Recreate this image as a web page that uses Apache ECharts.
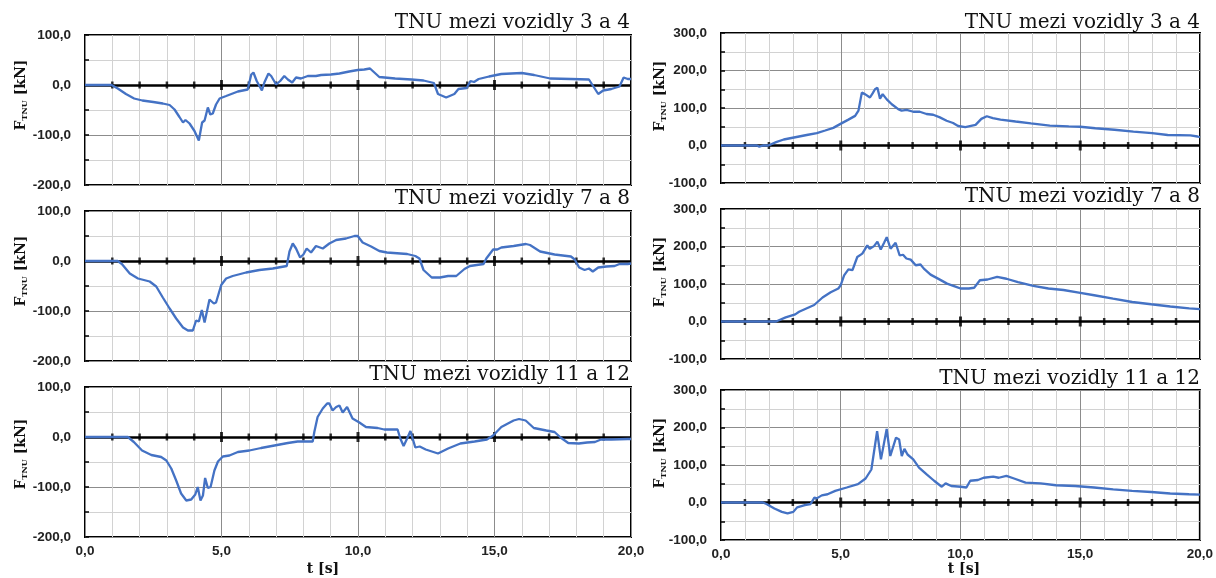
<!DOCTYPE html>
<html><head><meta charset="utf-8">
<script src="https://cdn.jsdelivr.net/npm/echarts@6/dist/echarts.min.js"></script>
<style>html,body{margin:0;padding:0;background:#fff}#c{width:1216px;height:578px}</style>
</head><body><div id="c"></div>
<script>
// ---------- data ----------
const TITLES = ['TNU mezi vozidly 3 a 4', 'TNU mezi vozidly 7 a 8', 'TNU mezi vozidly 11 a 12'];
const X_TICKS = [0, 5, 10, 15, 20];
const ZERO_TICKS = [1,2,3,4,5,6,7,8,9,10,11,12,13,14,15,16,17,18,19];
const Y_RANGE_LEFT = [-200, 100];
const Y_RANGE_RIGHT = [-100, 300];

const LEFT_3_4 = [[0,0],[0.97,0],[1.2,-7],[1.5,-18],[1.8,-27],[2.1,-31],[2.5,-34],[2.85,-37],[3.1,-40],[3.28,-49],[3.46,-64],[3.59,-75],[3.68,-70],[3.83,-77],[4.01,-92],[4.17,-111],[4.29,-75],[4.38,-71],[4.5,-45],[4.59,-59],[4.68,-57],[4.8,-39],[4.93,-27],[5.17,-22],[5.6,-13],[5.96,-9],[6.09,21],[6.17,25],[6.29,8],[6.48,-11],[6.57,5],[6.72,23],[6.82,18],[7.0,1],[7.15,8],[7.3,18],[7.43,11],[7.59,5],[7.73,15],[7.91,13],[8.16,18],[8.46,18],[8.65,20],[9.01,21],[9.32,23],[9.68,27],[9.99,30],[10.23,31],[10.44,33],[10.6,25],[10.78,16],[11.36,13],[11.96,11],[12.4,9],[12.78,4],[12.93,-18],[13.23,-25],[13.53,-18],[13.68,-8],[13.98,-6],[14.12,8],[14.25,6],[14.42,12],[14.8,17],[15.25,22],[16.0,24],[16.45,20],[17.04,13],[17.8,12],[18.46,11],[18.6,-1],[18.8,-18],[18.98,-11],[19.28,-8],[19.58,-3],[19.73,15],[19.88,12],[20,12]];
const LEFT_7_8 = [[0,0],[1.2,0],[1.35,-6],[1.64,-25],[1.94,-35],[2.37,-41],[2.61,-51],[2.85,-73],[3.1,-95],[3.34,-115],[3.59,-133],[3.77,-139],[3.95,-139],[4.07,-119],[4.17,-121],[4.28,-98],[4.38,-123],[4.56,-77],[4.72,-85],[4.8,-83],[4.99,-48],[5.17,-35],[5.41,-30],[5.9,-23],[6.39,-18],[6.88,-15],[7.39,-10],[7.49,19],[7.61,35],[7.73,25],[7.88,7],[8.0,13],[8.12,25],[8.28,17],[8.46,30],[8.71,25],[8.95,35],[9.2,42],[9.56,45],[9.87,50],[9.99,50],[10.17,37],[10.48,29],[10.78,20],[11.06,17],[11.8,14],[12.1,10],[12.25,5],[12.4,-18],[12.7,-33],[13.0,-33],[13.3,-30],[13.6,-30],[13.9,-16],[14.1,-10],[14.6,-6],[14.7,5],[14.95,23],[15.1,23],[15.25,27],[15.7,30],[16.15,34],[16.3,32],[16.67,19],[17.2,13],[17.8,9],[17.94,3],[18.1,-13],[18.3,-18],[18.46,-15],[18.6,-21],[18.8,-13],[19.1,-11],[19.4,-10],[19.58,-6],[19.88,-6],[20,-5]];
const LEFT_11_12 = [[0,0],[1.57,0],[1.79,-10],[2.09,-27],[2.43,-36],[2.79,-40],[2.98,-47],[3.16,-63],[3.34,-87],[3.52,-113],[3.71,-127],[3.89,-125],[4.04,-115],[4.13,-100],[4.23,-127],[4.32,-117],[4.4,-82],[4.5,-102],[4.6,-100],[4.74,-67],[4.87,-49],[5.05,-39],[5.29,-37],[5.6,-30],[6.02,-27],[6.45,-22],[6.94,-17],[7.43,-12],[7.79,-9],[8.34,-9],[8.4,10],[8.52,40],[8.71,57],[8.87,67],[8.95,67],[9.07,53],[9.2,60],[9.32,63],[9.44,49],[9.6,60],[9.8,37],[10.05,29],[10.29,20],[10.72,18],[10.96,15],[11.45,15],[11.55,-3],[11.67,-18],[11.8,-3],[11.92,12],[11.98,10],[12.1,-21],[12.26,-19],[12.48,-25],[12.93,-33],[13.3,-23],[13.75,-13],[14.27,-9],[14.72,-5],[14.95,3],[15.25,20],[15.7,33],[15.9,36],[16.14,33],[16.44,18],[16.9,13],[17.2,10],[17.42,-1],[17.7,-12],[18.09,-13],[18.39,-11],[18.68,-10],[18.9,-5],[19.28,-5],[19.88,-4],[20,-4]];
const RIGHT_3_4 = [[0,0],[1.5,0],[1.6,-3],[1.75,0],[1.98,0],[2.3,9],[2.62,16],[3.1,22],[3.58,28],[4.0,33],[4.35,40],[4.69,47],[4.97,57],[5.32,69],[5.6,79],[5.74,93],[5.88,141],[6.01,137],[6.22,128],[6.33,139],[6.43,150],[6.53,154],[6.64,125],[6.75,137],[6.92,123],[7.13,110],[7.4,97],[7.54,93],[7.75,95],[8.03,90],[8.3,90],[8.58,84],[8.86,82],[9.14,75],[9.42,66],[9.69,60],[9.9,52],[10.2,49],[10.63,55],[10.87,71],[11.1,78],[11.35,73],[11.67,69],[12.3,64],[12.94,59],[13.73,53],[14.52,51],[15.0,50],[15.63,46],[16.43,42],[17.22,37],[18.0,33],[18.65,28],[19.6,27],[19.9,24],[20,22]];
const RIGHT_7_8 = [[0,0],[2.3,0],[2.38,4],[2.7,11],[3.1,19],[3.26,26],[3.54,34],[3.89,44],[4.24,64],[4.58,78],[4.9,88],[5.0,97],[5.14,123],[5.32,139],[5.49,137],[5.69,172],[5.9,181],[6.11,203],[6.21,194],[6.39,201],[6.53,213],[6.67,192],[6.81,210],[6.92,225],[7.08,194],[7.29,210],[7.46,176],[7.6,178],[7.74,168],[7.92,165],[8.13,150],[8.33,152],[8.47,141],[8.75,125],[9.1,113],[9.44,101],[9.79,93],[10.0,88],[10.35,88],[10.57,90],[10.81,110],[11.13,112],[11.53,119],[11.92,114],[12.4,105],[13.04,95],[13.67,88],[14.3,84],[14.94,77],[15.58,70],[16.37,61],[17.17,52],[17.96,46],[18.76,40],[19.55,35],[20,33]];
const RIGHT_11_12 = [[0,0],[1.75,0],[1.9,-4],[2.23,-16],[2.54,-25],[2.78,-29],[3.02,-25],[3.18,-13],[3.5,-7],[3.74,-4],[3.9,13],[4.0,11],[4.21,19],[4.45,22],[4.77,31],[5.25,40],[5.72,49],[6.04,64],[6.28,88],[6.52,190],[6.68,115],[6.92,196],[7.07,124],[7.31,173],[7.44,168],[7.55,124],[7.66,143],[7.79,128],[8.03,115],[8.27,93],[8.59,75],[8.9,58],[9.22,42],[9.38,51],[9.62,44],[10.02,42],[10.25,40],[10.41,58],[10.73,60],[10.97,66],[11.37,69],[11.6,66],[11.92,71],[12.24,64],[12.72,53],[13.35,51],[13.99,46],[14.79,44],[15.58,40],[16.38,35],[17.17,31],[17.97,28],[18.76,24],[19.55,22],[20,21]];

// ---------- layout ----------
const PANELS = [
  {side:'L', row:0, data:LEFT_3_4},
  {side:'L', row:1, data:LEFT_7_8},
  {side:'L', row:2, data:LEFT_11_12},
  {side:'R', row:0, data:RIGHT_3_4},
  {side:'R', row:1, data:RIGHT_7_8},
  {side:'R', row:2, data:RIGHT_11_12}
];
const GEOM = {
  L: {left:85, width:546, tops:[35, 211, 387], titleRight:586, titleTops:[13, 189, 365], nameX:21, nameY:[95, 271, 454], xNameX:323},
  R: {left:721, width:479, tops:[33, 209, 390], titleRight:16, titleTops:[13, 187, 369], nameX:660, nameY:[96, 272, 453], xNameX:964}
};
const H = 150;
const fmt = v => v.toFixed(1).replace('.', ',');
const LABEL_FONT = 'Liberation Sans';
const SERIF = 'DejaVu Serif';
const MAJOR = '#8c8c8c', MINOR = '#d2d2d2';

const chart = echarts.init(document.getElementById('c'), null, {renderer:'canvas'});

const grids = [], xAxes = [], yAxes = [], series = [], titles = [], graphics = [];
PANELS.forEach((p, i) => {
  const g = GEOM[p.side];
  const yr = p.side === 'L' ? Y_RANGE_LEFT : Y_RANGE_RIGHT;
  grids.push({left:g.left, top:g.tops[p.row], width:g.width, height:H, show:true,
    borderColor:'#000', borderWidth:2, backgroundColor:'transparent'});
  xAxes.push({gridIndex:i, type:'value', min:X_TICKS[0], max:X_TICKS[X_TICKS.length-1], interval:X_TICKS[1]-X_TICKS[0],
    axisLine:{show:false}, axisTick:{show:false},
    axisLabel:{show:p.row === 2, formatter:fmt, margin:7, fontSize:13.5, fontWeight:'bold', color:'#222', fontFamily:LABEL_FONT},
    splitLine:{show:true, lineStyle:{color:MAJOR, width:1}},
    minorTick:{show:false, splitNumber:5},
    minorSplitLine:{show:true, lineStyle:{color:MINOR, width:1}}});
  yAxes.push({gridIndex:i, type:'value', min:yr[0], max:yr[1], interval:100,
    axisLine:{show:false},
    axisTick:{show:true, inside:true, length:4, lineStyle:{color:'#000', width:1.5}},
    minorTick:{show:true, splitNumber:2, length:4, lineStyle:{color:'#000', width:1.5}},
    axisLabel:{formatter:fmt, margin:14, fontSize:13.5, fontWeight:'bold', color:'#222', fontFamily:LABEL_FONT},
    splitLine:{show:true, lineStyle:{color:MAJOR, width:1}},
    minorSplitLine:{show:true, lineStyle:{color:MINOR, width:1}}});
  series.push({type:'scatter', xAxisIndex:i, yAxisIndex:i, silent:true, z:3, animation:false,
    data: ZERO_TICKS.map(t => [t, 0]), symbol:'rect',
    symbolSize: v => (v[0] % 5 === 0 ? [3, 10] : [2.5, 7]),
    itemStyle:{color:'#000'},
    markLine:{silent:true, symbol:['none','none'], label:{show:false}, animation:false,
      lineStyle:{color:'#000', width:2.5, type:'solid'}, data:[{yAxis:0}]}});
  series.push({type:'line', xAxisIndex:i, yAxisIndex:i, data:p.data, showSymbol:false, symbol:'none',
    lineStyle:{color:'#4472C4', width:2.3}, z:5, animation:false});
  titles.push({text:TITLES[p.row], right:g.titleRight, top:g.titleTops[p.row], padding:0,
    textStyle:{fontFamily:SERIF, fontSize:20, fontWeight:'normal', color:'#111'}});
  graphics.push({type:'text', x:g.nameX, y:g.nameY[p.row], rotation:Math.PI/2,
    style:{text:'{f|F}{s|TNU}{f| [kN]}', align:'center', verticalAlign:'middle', textAlign:'center', textVerticalAlign:'middle',
      rich:{f:{fontFamily:SERIF, fontWeight:'bold', fontSize:14, fill:'#111', color:'#111', lineHeight:18, verticalAlign:'middle'},
            s:{fontFamily:SERIF, fontWeight:'bold', fontSize:8, fill:'#111', color:'#111', lineHeight:18, verticalAlign:'bottom', padding:[0,0,1,0]}}}});
  if (p.row === 2) {
    graphics.push({type:'text', x:g.xNameX, y:569,
      style:{text:'t [s]', font:'bold 14px "DejaVu Serif"', fill:'#111', align:'center', verticalAlign:'middle', textAlign:'center', textVerticalAlign:'middle'}});
  }
});

chart.setOption({
  animation:false,
  backgroundColor:'#fff',
  title:titles, grid:grids, xAxis:xAxes, yAxis:yAxes, series:series, graphic:graphics
});
</script></body></html>
